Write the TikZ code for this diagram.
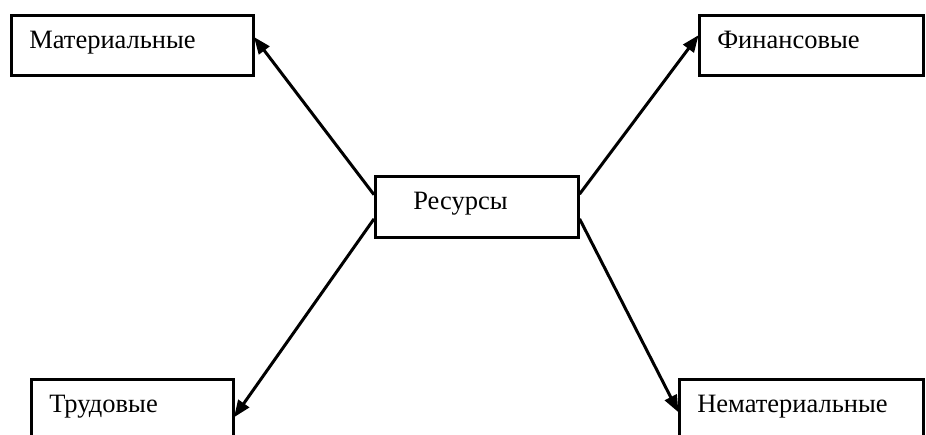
\documentclass[tikz,border=0pt]{standalone}
\usepackage{fontspec}
\setmainfont{Liberation Serif}
\usetikzlibrary{calc,arrows.meta}
\begin{document}
\begin{tikzpicture}[x=1pt,y=-1pt,
  box/.style={draw, line width=2.6pt, anchor=north west, align=left, inner ysep=0pt,
    inner xsep=18pt, text height=17pt, text depth=11pt, font=\fontsize{26.5}{30}\selectfont},
  conn/.style={line width=3pt, -{Triangle[length=17pt,width=13pt]}, shorten >=-1pt}]
\useasboundingbox (0,0) rectangle (926,434);
\clip (0,0) rectangle (926,434);
\node[box, minimum width=242pt, minimum height=60pt, text width=206pt] (mat) at (10,14) {Материальные};
\node[box, minimum width=224pt, minimum height=60pt, text width=188pt] (fin) at (698,14) {Финансовые};
\node[box, minimum width=203pt, minimum height=61pt, text width=127pt, inner xsep=38pt] (res) at (374,175) {Ресурсы};
\node[box, minimum width=202pt, minimum height=70pt, text width=166pt, text depth=21pt] (trud) at (30,378) {Трудовые};
\node[box, minimum width=244pt, minimum height=70pt, text width=208pt, text depth=21pt] (nemat) at (678,378) {Нематериальные};
\draw[conn] ($(res.north west)!0.31!(res.south west)$) -- ($(mat.north east)!0.38!(mat.south east)$);
\draw[conn] ($(res.north east)!0.30!(res.south east)$) -- ($(fin.north west)!0.35!(fin.south west)$);
\draw[conn] ($(res.north west)!0.69!(res.south west)$) -- ($(trud.north east)!0.53!(trud.south east)$);
\draw[conn] ($(res.north east)!0.69!(res.south east)$) -- ($(nemat.north west)!0.46!(nemat.south west)$);
\end{tikzpicture}
\end{document}
